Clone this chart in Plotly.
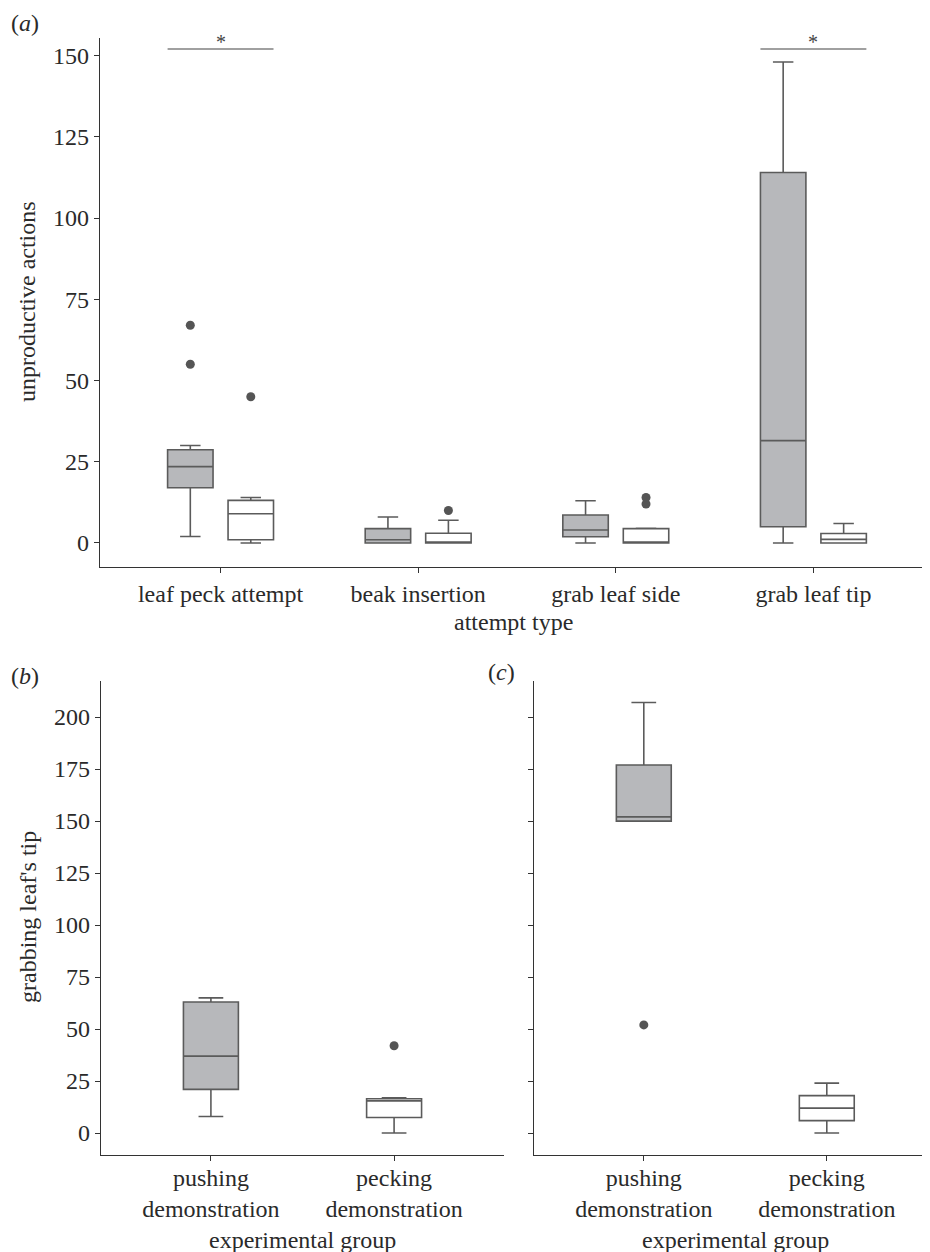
import plotly.graph_objects as go

# ---------------- data ----------------
attempt_types = ["leaf peck attempt", "beak insertion", "grab leaf side", "grab leaf tip"]

# panel (a): grey boxes
a_grey_low = [2, 0, 0, 0]
a_grey_q1 = [17, 0, 1.9, 5]
a_grey_med = [23.5, 1, 4, 31.5]
a_grey_q3 = [28.7, 4.4, 8.6, 114]
a_grey_high = [30, 8, 13, 148]
a_grey_out = [[55, 67], [], [], []]

# panel (a): white boxes
a_white_low = [0, 0, 0, 0]
a_white_q1 = [1, 0, 0, 0]
a_white_med = [9, 0, 0.3, 1.1]
a_white_q3 = [13.1, 3, 4.4, 2.9]
a_white_high = [14, 7, 4.5, 6]
a_white_out = [[45], [10], [12, 14], []]

# significance bars (a)
sig_idx = [0, 3]
sig_y = [152, 152]
sig_text = ["*", "*"]

groups = ["pushing<br>demonstration", "pecking<br>demonstration"]
group_fill = ["#b7b8bb", "#ffffff"]

# panel (b)
b_low = [8, 0]
b_q1 = [21, 7.5]
b_med = [37, 15.5]
b_q3 = [63, 16.5]
b_high = [65, 17]
b_out = [[], [42]]

# panel (c)
c_low = [150, 0]
c_q1 = [150, 6]
c_med = [152, 12]
c_q3 = [177, 18]
c_high = [207, 24]
c_out = [[52], []]

a_ticks = [0, 25, 50, 75, 100, 125, 150]
bc_ticks = [0, 25, 50, 75, 100, 125, 150, 175, 200]

# ---------------- style ----------------
GREY = "#b7b8bb"
LINE = "#5b5b5b"
AX = "#333333"
TXT = "#2a2a2a"
FONT = "Liberation Serif"
FS = 24
OFF = 8  # page body margin
W, H = 930 - OFF, 1252 - OFF


def px(x):
    return (x - OFF) / W


def py(y):
    return 1 - (y - OFF) / H


fig = go.Figure()

dodge = 0.153
a_width = 0.23
bc_width = 0.3


def add_box(xpos, low, q1, med, q3, high, fill, width, xa, ya, outs):
    fig.add_trace(go.Box(
        x=[xpos], lowerfence=[low], q1=[q1], median=[med], q3=[q3], upperfence=[high],
        width=width, fillcolor=fill, line=dict(color=LINE, width=1.6),
        whiskerwidth=0.45, boxpoints=False, showlegend=False,
        xaxis=xa, yaxis=ya, hoverinfo="skip"))
    if outs:
        fig.add_trace(go.Scatter(
            x=[xpos] * len(outs), y=outs, mode="markers",
            marker=dict(color="#555555", size=9), showlegend=False,
            xaxis=xa, yaxis=ya, hoverinfo="skip"))


for i in range(len(attempt_types)):
    add_box(i - dodge, a_grey_low[i], a_grey_q1[i], a_grey_med[i], a_grey_q3[i],
            a_grey_high[i], GREY, a_width, "x", "y", a_grey_out[i])
    add_box(i + dodge, a_white_low[i], a_white_q1[i], a_white_med[i], a_white_q3[i],
            a_white_high[i], "#ffffff", a_width, "x", "y", a_white_out[i])

for i in range(len(groups)):
    add_box(i, b_low[i], b_q1[i], b_med[i], b_q3[i], b_high[i], group_fill[i],
            bc_width, "x2", "y2", b_out[i])
    add_box(i, c_low[i], c_q1[i], c_med[i], c_q3[i], c_high[i], group_fill[i],
            bc_width, "x3", "y3", c_out[i])

# significance lines
for k, idx in enumerate(sig_idx):
    fig.add_trace(go.Scatter(
        x=[idx - dodge - a_width / 2, idx + dodge + a_width / 2], y=[sig_y[k], sig_y[k]],
        mode="lines", line=dict(color="#808080", width=1.4), showlegend=False,
        xaxis="x", yaxis="y", hoverinfo="skip"))
    fig.add_annotation(x=idx, y=sig_y[k], xref="x", yref="y", text=sig_text[k],
                       showarrow=False, yanchor="bottom", yshift=-6,
                       font=dict(family=FONT, size=20, color="#444444"))

axis_common = dict(showline=True, linecolor=AX, linewidth=1.4, ticks="outside",
                   ticklen=5, tickwidth=1.3, tickcolor=AX, showgrid=False, zeroline=False,
                   tickfont=dict(family=FONT, size=FS, color=TXT))

ya_dom = [py(567), py(38)]
yb_dom = [py(1154.6), py(681)]

fig.update_layout(
    width=W, height=H, margin=dict(l=0, r=0, t=0, b=0),
    paper_bgcolor="white", plot_bgcolor="white", showlegend=False,
    xaxis=dict(domain=[px(100), 1.0], range=[-0.61, 3.59], tickmode="array",
               tickvals=list(range(len(attempt_types))), ticktext=attempt_types,
               anchor="y", **axis_common),
    yaxis=dict(domain=ya_dom, range=[-7.4, 155.4], tickmode="array", tickvals=a_ticks,
               anchor="x", **axis_common),
    xaxis2=dict(domain=[px(101), px(504)], range=[-0.6, 1.6], tickmode="array",
                tickvals=list(range(len(groups))), ticktext=groups, anchor="y2",
                ticklabelstandoff=-4, **axis_common),
    yaxis2=dict(domain=yb_dom, range=[-10.35, 217.35], tickmode="array",
                tickvals=bc_ticks, anchor="x2", **axis_common),
    xaxis3=dict(domain=[px(534), 1.0], range=[-0.6, 1.564], tickmode="array",
                tickvals=list(range(len(groups))), ticktext=groups, anchor="y3",
                ticklabelstandoff=-4, **axis_common),
    yaxis3=dict(domain=yb_dom, range=[-10.35, 217.35], tickmode="array",
                tickvals=bc_ticks, showticklabels=False, anchor="x3", **axis_common),
)


def paper_text(x, y, text, size=FS, angle=0, xanchor="center", yanchor="middle"):
    fig.add_annotation(x=px(x), y=min(1.0, py(y)), xref="paper", yref="paper", text=text,
                       showarrow=False, textangle=angle, xanchor=xanchor, yanchor=yanchor,
                       font=dict(family=FONT, size=size, color=TXT))


paper_text(27, 302, "unproductive actions", angle=-90)
paper_text(513, 622, "attempt type")
paper_text(28, 917, "grabbing leaf's tip", angle=-90)
paper_text(302, 1240, "experimental group")
paper_text(735, 1240, "experimental group")
paper_text(25, 8, "(<i>a</i>)", yanchor="top")
paper_text(25, 676, "(<i>b</i>)")
paper_text(501, 672, "(<i>c</i>)")

fig.write_html("out.html")
